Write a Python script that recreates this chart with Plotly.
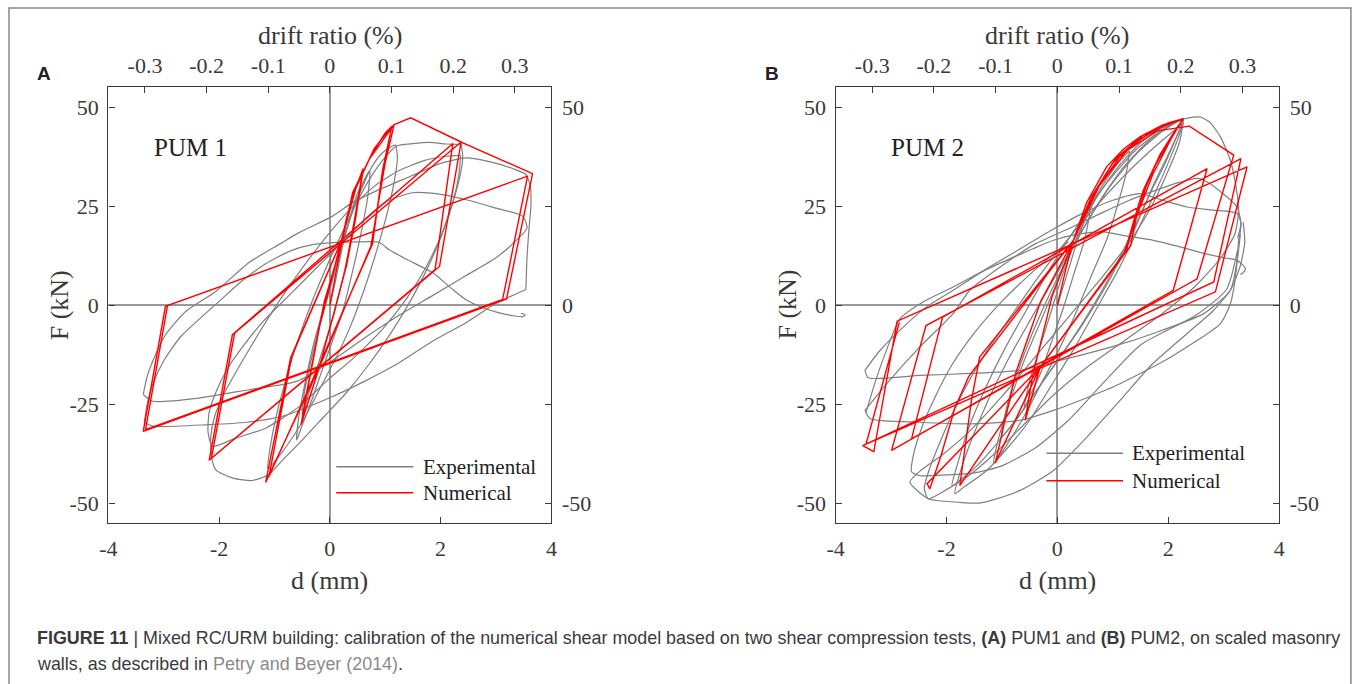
import plotly.graph_objects as go

W, H = 1357, 684

# ---------------- data ----------------
d_ticks = [-4, -2, 0, 2, 4]
f_ticks = [-50, -25, 0, 25, 50]
f_right_text = ["-50", "", "0", "", "50"]
drift_ticks = [-0.3, -0.2, -0.1, 0, 0.1, 0.2, 0.3]
drift_text = ["-0.3", "-0.2", "-0.1", "0", "0.1", "0.2", "0.3"]
MM_PER_01PCT = 1.113  # 0.1 % drift ratio corresponds to 1.113 mm

# PUM 1 - numerical (red)
num_a = [(0, 0), (0.1, 8), (0.2, 15), (0.3, 22), (0.45, 29), (0.6, 34),
         (0.45, 21), (0.3, 10), (-0.19, -15.6), (-0.52, -30.1),
         (-0.42, -22), (-0.2, -6), (0.2, 16), (0.4, 27), (0.6, 34.5),
         (0.45, 22), (0.28, 9), (-0.19, -15.6), (-0.5, -29),
         (-0.4, -21), (-0.1, 1), (0.23, 16.6), (0.41, 28.4), (0.71, 36.8), (1.01, 42.7), (1.16, 45.6),
         (1.0, 36), (0.74, 14.9), (-0.19, -15.6), (-1.16, -44.7),
         (-0.71, -13.3), (0.2, 16), (0.45, 29), (0.75, 38), (1.0, 43.5), (1.12, 45.2),
         (0.95, 34), (0.77, 15.5), (-0.19, -15), (-1.1, -43.2),
         (-0.69, -12.9), (0.2, 16), (0.48, 30), (0.8, 39.5), (1.05, 44), (1.16, 45.6), (1.46, 47.3), (2.37, 41.2),
         (1.98, 9.8), (-2.18, -39.1),
         (-1.76, -7.4), (2.22, 40.8),
         (1.9, 9.0), (-2.14, -38.6),
         (-1.72, -7.0), (2.37, 41.2), (3.66, 33.2),
         (3.19, 1.6), (-3.37, -31.8),
         (-2.97, -0.25), (3.57, 32.6),
         (3.12, 1.5), (-3.33, -31.4),
         (-2.93, 0.1)]

# PUM 1 - experimental (grey), one list per branch
exp_a_1 = [(0, 0), (0.1, 6), (0.2, 13), (0.3, 19), (0.42, 25), (0.52, 29), (0.48, 23), (0.36, 15), (0.22, 6),
           (0.06, -3), (-0.1, -10), (-0.26, -17), (-0.4, -23), (-0.5, -28), (-0.46, -22), (-0.34, -14),
           (-0.18, -5), (0.02, 5), (0.22, 15), (0.42, 24), (0.6, 31), (0.72, 34), (0.68, 27), (0.56, 18),
           (0.4, 8), (0.22, -2), (0.02, -10), (-0.18, -18), (-0.38, -26), (-0.52, -31), (-0.6, -34),
           (-0.56, -28), (-0.44, -19), (-0.28, -9), (-0.08, 1), (0.12, 11), (0.34, 21), (0.56, 29),
           (0.76, 35), (0.95, 38.5), (1.1, 40), (1.19, 40.5)]
exp_a_2 = [(1.19, 40.5), (1.22, 37.5), (1.16, 31), (1.03, 23), (0.85, 14), (0.62, 4), (0.38, -5), (0.12, -13),
           (-0.18, -21), (-0.48, -29), (-0.78, -35.5), (-1.0, -39.5), (-1.12, -41.2), (-1.08, -36),
           (-0.97, -28), (-0.8, -19), (-0.58, -9), (-0.32, 1), (-0.02, 11), (0.28, 20), (0.58, 28.5),
           (0.84, 34.5), (1.04, 38), (1.2, 40.2), (1.5, 40.8), (1.8, 41.1), (2.1, 40.7), (2.37, 40.6)]
exp_a_3 = [(2.37, 40.6), (2.4, 37.5), (2.34, 32), (2.2, 25), (2.0, 17), (1.75, 9), (1.45, 1), (1.1, -7),
           (0.7, -15), (0.3, -22), (-0.1, -28), (-0.5, -34), (-0.85, -39), (-1.1, -42.7), (-1.4, -44.2),
           (-1.75, -43.6), (-2.06, -41.5), (-2.14, -38), (-2.15, -33), (-2.08, -28), (-1.9, -22),
           (-1.62, -15), (-1.28, -7), (-0.92, 1), (-0.52, 9), (-0.08, 17), (0.35, 24), (0.8, 30),
           (1.25, 34), (1.7, 36.5), (2.1, 37.6), (2.36, 37.8)]
exp_a_4 = [(2.36, 37.8), (2.33, 33), (2.22, 26), (2.02, 18), (1.75, 10), (1.4, 2), (0.95, -6), (0.45, -13),
           (-0.05, -19), (-0.55, -25.5), (-1.16, -31), (-1.7, -33.5), (-2.12, -35.6), (-2.2, -32),
           (-2.18, -27), (-2.06, -22), (-1.85, -16), (-1.55, -10), (-1.2, -4), (-0.7, 3), (-0.2, 10),
           (0.3, 17), (0.65, 22), (1.0, 26), (1.49, 28.4), (2.0, 28), (2.5, 26.5), (3.0, 24.5), (3.48, 22.5),
           (3.56, 19.5), (3.3, 15.5), (3.0, 12), (2.46, 7.5), (1.86, 2.5), (1.25, -2.5), (0.65, -8),
           (0.04, -14), (-0.6, -19.2), (-1.46, -21.3), (-2.36, -23.4), (-3.2, -24.2), (-3.37, -22.5)]
exp_a_5 = [(-3.37, -22.5), (-3.3, -18), (-3.15, -12.5), (-2.97, -7.5), (-2.6, -1.5), (-2.06, 3.5),
           (-1.46, 10.8), (-0.9, 15.5), (-0.55, 18.4), (0.05, 22.5), (0.41, 25.9), (0.83, 28.8), (1.5, 32.8),
           (2.0, 35.8), (2.46, 37.2), (2.9, 36.2), (3.3, 34.5), (3.54, 33), (3.62, 30), (3.63, 25),
           (3.6, 20), (3.56, 12), (3.54, 4)]
exp_a_6 = [(3.54, 4), (3.0, 0.5), (2.46, -4.4), (1.86, -9), (1.25, -14.5), (0.65, -19), (0.05, -23),
           (-0.86, -28), (-1.5, -29.5), (-2.18, -30.1), (-3.2, -30.5), (-3.35, -29.5)]
exp_a_7 = [(-3.35, -29.5), (-3.3, -25), (-3.2, -20), (-3.0, -14), (-2.7, -8), (-2.36, -3.5), (-2.0, 1),
           (-1.6, 6), (-1.16, 10.5), (-0.7, 13.8), (-0.31, 15.3), (0.05, 15.8), (0.5, 16), (0.89, 15.9),
           (1.07, 14), (1.4, 11.5), (1.86, 8.2), (2.2, 4.2), (2.46, 1.4), (2.8, -0.8), (3.06, -1.9),
           (3.3, -2.6), (3.48, -2.9), (3.53, -2.4), (3.45, -2.0)]

# PUM 2 - numerical (red)
num_b = [(0, 0), (0.15, 9), (0.29, 16.4), (0.53, 26), (0.89, 35), (1.2, 39.5), (1.49, 42.5), (1.9, 45.5), (2.27, 47.1),
         (2.12, 44), (1.85, 38), (1.6, 30), (1.42, 22), (1.32, 15), (-0.31, -15.6), (-0.58, -29),
         (-0.45, -18), (-0.1, 2), (0.29, 16.4), (0.6, 27), (1.0, 36), (1.5, 42), (1.95, 45.5), (2.27, 47.1),
         (2.1, 43.5), (1.8, 36.5), (1.55, 29), (1.37, 21), (1.25, 14), (-0.31, -15.6), (-1.12, -39.8),
         (-0.95, -29), (-0.75, -17), (-0.3, 1), (0.29, 16.4), (0.62, 27.5), (1.05, 37), (1.55, 43), (2.0, 46), (2.27, 47.1),
         (2.08, 43), (1.75, 35), (1.5, 27), (1.33, 19), (1.22, 13.5), (-0.31, -15.6), (-1.76, -45.5),
         (-1.73, -42.5), (-1.63, -32), (-1.55, -24), (-1.4, -13), (0.29, 16.4), (0.7, 29), (1.15, 38), (1.7, 44), (2.27, 47.1),
         (2.05, 42), (1.72, 33), (1.47, 24), (1.3, 17), (1.2, 13), (-0.31, -15.6), (-2.35, -45), (-2.3, -46.3),
         (-2.1, -38), (-1.85, -26), (-1.6, -18), (-1.36, -13.5), (0.29, 16.4), (0.75, 30), (1.25, 39), (1.8, 44), (2.38, 45.2),
         (3.18, 37.9), (2.52, 6.7), (-2.63, -33.7),
         (-2.07, -3.0), (2.70, 34.5),
         (2.09, 3.8), (-2.99, -36.6),
         (-2.37, -5.1), (3.31, 37),
         (2.82, 5.9), (-3.51, -35.4), (-3.31, -36.9),
         (-2.89, -4.0), (3.42, 34.9),
         (2.85, 3.4), (-3.45, -35.0),
         (-2.85, -4.3)]

# PUM 2 - experimental (grey)
exp_b_1 = [(0, 0), (0.2, 9), (0.4, 18), (0.6, 25), (0.5, 17), (0.3, 8), (0.1, -1), (-0.1, -9), (-0.3, -17),
           (-0.5, -23), (-0.6, -26), (-0.5, -19), (-0.3, -10), (-0.1, -1), (0.1, 8), (0.35, 17), (0.6, 25),
           (0.85, 31), (1.1, 36), (1.3, 39)]
exp_b_2 = [(1.3, 39), (1.25, 34), (1.1, 26), (0.9, 17), (0.6, 7), (0.3, -3), (0, -12), (-0.3, -20), (-0.6, -28),
           (-0.9, -35), (-1.15, -40), (-1.05, -33), (-0.85, -24), (-0.6, -14), (-0.3, -4), (0, 6), (0.35, 17),
           (0.7, 27), (1.1, 35), (1.5, 41), (1.85, 44.5), (2.1, 46), (2.27, 47)]
exp_b_3 = [(2.27, 47), (2.2, 43), (2.0, 36), (1.75, 28), (1.45, 19), (1.1, 9), (0.7, -1), (0.3, -11), (-0.1, -20),
           (-0.5, -29), (-0.9, -36), (-1.3, -42), (-1.7, -46), (-1.85, -47.5), (-1.75, -42), (-1.55, -34),
           (-1.25, -24), (-0.9, -14), (-0.5, -4), (-0.05, 7), (0.45, 19), (0.95, 30), (1.45, 38.5), (1.9, 44),
           (2.27, 47)]
exp_b_4 = [(2.27, 47), (2.45, 47.5), (2.58, 47.5), (2.75, 46.2), (2.94, 42.5), (3.12, 36.6), (3.22, 30),
           (3.27, 24), (3.2, 18), (2.95, 12), (2.5, 5), (1.9, -2), (1.2, -9), (0.5, -16), (-0.1, -23),
           (-0.6, -30), (-1.1, -37), (-1.6, -43), (-2.0, -46.5), (-2.33, -48.8), (-2.4, -46), (-2.3, -41),
           (-2.1, -34), (-1.85, -26), (-1.55, -18), (-1.2, -10), (-0.8, -2), (-0.35, 7), (0.15, 16), (0.7, 25),
           (1.3, 34), (1.8, 40.5), (2.27, 46)]
exp_b_5 = [(2.27, 46), (2.2, 41), (2.0, 34), (1.7, 25), (1.3, 16), (0.8, 7), (0.2, -3), (-0.4, -13), (-1.0, -23),
           (-1.6, -32), (-2.1, -38), (-2.45, -41.5), (-2.66, -44.6), (-2.33, -48.8), (-1.76, -49.7),
           (-1.40, -49.9), (-1.16, -49.1), (-0.67, -46.7), (-0.07, -41.7), (0.53, -33.3), (1.13, -24),
           (1.7, -15), (2.34, -7.1), (2.8, -1.5), (3.12, 3.8), (3.3, 10), (3.38, 16), (3.35, 21)]
exp_b_6 = [(-3.47, -26.5), (-3.08, -19.8), (-2.48, -10.5), (-1.88, -2.1), (-1.58, 3.8), (-1.0, 10), (-0.4, 15.5),
           (0.23, 19.5), (0.83, 23.5), (1.3, 26.5), (1.73, 28.8), (2.2, 31), (2.52, 32), (2.70, 31.1),
           (3.0, 28), (3.24, 24.8), (3.31, 20.6), (3.25, 17)]
exp_b_7 = [(-3.47, -16.4), (-3.2, -11.4), (-2.78, -5.5), (-2.36, -0.4), (-1.88, 3.8), (-1.3, 9), (-0.7, 14),
           (-0.1, 19), (0.5, 23.5), (1.0, 26.5), (1.49, 28.2), (1.9, 26.5), (2.34, 24.8), (2.8, 24),
           (3.24, 23.2), (3.31, 20.6), (3.28, 17)]
exp_b_8 = [(-3.45, -27), (-3.3, -20), (-3.1, -12), (-2.84, -3.4), (-2.4, 1), (-1.88, 4.6), (-1.4, 8.2),
           (-0.91, 11.4), (-0.45, 14.2), (-0.07, 16.4), (0.4, 18), (0.83, 18.5), (1.2, 17.6), (1.73, 16.4),
           (2.2, 14.8), (2.64, 13.1), (3.0, 12), (3.24, 11.4), (3.39, 9.3), (3.35, 8.2), (3.3, 7.8)]
exp_b_9 = [(3.3, 18), (3.25, 12), (3.12, 3.8), (2.64, -2.1), (1.73, -7.1), (1.1, -10), (0.53, -12.2),
           (-0.07, -14.3), (-0.67, -16.4), (-1.58, -17.2), (-2.48, -17.7), (-3.41, -18.3), (-3.47, -16.4)]
exp_b_10 = [(3.27, 17), (3.22, 8), (3.12, 0.4), (2.94, -4.6), (2.04, -13.1), (1.13, -19.8), (0.5, -23.5),
            (-0.07, -26.5), (-0.67, -29), (-1.52, -29.9), (-2.48, -29.5), (-3.38, -28.6), (-3.47, -26.5)]
exp_b_11 = [(3.25, 14), (3.05, 4), (2.5, -2.5), (1.5, -10), (0.8, -20), (0.2, -29), (-0.4, -36), (-1.0, -40.5),
            (-1.5, -42.3), (-2.0, -42.8), (-2.48, -43), (-2.63, -42), (-2.6, -38), (-2.45, -31), (-2.2, -23),
            (-1.9, -15), (-1.5, -7), (-1.0, 1), (-0.4, 9), (0.2, 16)]
exp_b_12 = [(2.27, 47), (2.15, 42.5), (1.95, 36), (1.7, 29), (1.4, 20), (1.05, 10), (0.65, 0), (0.2, -10),
            (-0.25, -19), (-0.7, -28), (-1.1, -35), (-1.45, -40.5), (-1.75, -44), (-1.9, -45.5), (-1.8, -40),
            (-1.6, -31), (-1.3, -21), (-0.95, -11), (-0.55, -1), (-0.1, 10), (0.4, 21), (0.9, 31), (1.4, 39),
            (1.85, 44), (2.27, 47)]
exp_b_13 = [(2.27, 47), (2.18, 43.5), (1.98, 37.5), (1.72, 30), (1.45, 21), (1.15, 12), (0.8, 3), (0.4, -6),
            (0, -14), (-0.4, -22), (-0.75, -29), (-1.0, -33), (-0.92, -26), (-0.72, -17), (-0.45, -7),
            (-0.1, 4), (0.3, 15), (0.75, 26), (1.2, 35), (1.65, 41.5), (2.0, 45), (2.27, 47)]

exp_a = [exp_a_1, exp_a_2, exp_a_3, exp_a_4, exp_a_5, exp_a_6, exp_a_7]
exp_b = [exp_b_1, exp_b_2, exp_b_3, exp_b_4, exp_b_5, exp_b_6, exp_b_7, exp_b_8, exp_b_9, exp_b_10,
         exp_b_11, exp_b_12, exp_b_13]

# ---------------- layout helpers ----------------
# the page is shown slightly compressed horizontally; positions below are target pixels
X_OFF, X_SC = 10.0, 0.989


def fx(px):
    return max(0.0, min(1.0, (px - X_OFF) / X_SC / W))


def fy(py):
    return 1 - py / H


GREY = "#7f7f7f"
RED = "#ff0000"
AXC = "#3a3a3a"
SERIF = "Liberation Serif, Times New Roman, serif"

ydom = [fy(523.3), fy(87.3)]
xdom_a = [fx(109.3), fx(552.0)]
xdom_b = [fx(836.0), fx(1279.3)]

fig = go.Figure()


def add_series(pts, xa, ya, color, width, shape="linear"):
    fig.add_trace(go.Scatter(x=[p[0] for p in pts], y=[p[1] for p in pts], mode="lines",
                             line=dict(color=color, width=width, shape=shape, smoothing=0.6),
                             xaxis=xa, yaxis=ya, showlegend=False, hoverinfo="skip"))


for br in exp_a:
    add_series(br, "x", "y", GREY, 1.2, "spline")
add_series(num_a, "x", "y", RED, 1.4)
for br in exp_b:
    add_series(br, "x3", "y3", GREY, 1.2, "spline")
add_series(num_b, "x3", "y3", RED, 1.4)

# empty traces so that the secondary (top / right) axes get drawn
for xa, ya in [("x2", "y"), ("x", "y2"), ("x4", "y3"), ("x3", "y4")]:
    fig.add_trace(go.Scatter(x=[None], y=[None], xaxis=xa, yaxis=ya, showlegend=False, hoverinfo="skip"))

tick_font = dict(family=SERIF, size=22, color=AXC)
base = dict(showgrid=False, showline=True, linecolor=AXC, linewidth=1.3, ticks="inside", ticklen=6,
            tickcolor=AXC, tickwidth=1.2, tickfont=tick_font, zeroline=False)

drange = [-4 * 0.1 / MM_PER_01PCT, 4 * 0.1 / MM_PER_01PCT]


def axes(xd, xa, ya):
    bottom = dict(base, domain=xd, range=[-4, 4], tickmode="array", tickvals=d_ticks,
                  ticktext=[str(v) for v in d_ticks], anchor=ya, zeroline=True,
                  zerolinecolor="#999999", zerolinewidth=1.6, ticklabelstandoff=5)
    top = dict(base, range=drange, tickmode="array", tickvals=drift_ticks, ticktext=drift_text,
               side="top", overlaying=xa, anchor=ya, ticklabelstandoff=4)
    left = dict(base, domain=ydom, range=[-55, 55], tickmode="array", tickvals=f_ticks,
                ticktext=[str(v) for v in f_ticks], anchor=xa, zeroline=True,
                zerolinecolor="#999999", zerolinewidth=1.6, ticklabelstandoff=4)
    right = dict(base, range=[-55, 55], tickmode="array", tickvals=f_ticks, ticktext=f_right_text,
                 side="right", overlaying=ya, anchor=xa, ticklabelstandoff=5)
    return bottom, top, left, right


xb, xt, yl, yr = axes(xdom_a, "x", "y")
xb3, xt4, yl3, yr4 = axes(xdom_b, "x3", "y3")

fig.update_layout(
    width=W, height=H, autosize=False,
    margin=dict(l=0, r=0, t=0, b=0),
    paper_bgcolor="white", plot_bgcolor="white",
    showlegend=False,
    xaxis=xb, xaxis2=xt, yaxis=yl, yaxis2=yr,
    xaxis3=xb3, xaxis4=xt4, yaxis3=yl3, yaxis4=yr4,
)

ann = []
shapes = []
title_font = dict(family=SERIF, size=26, color=AXC)
for (x0, x1, label, pum, pumx) in [(109.3, 552.0, "A", "PUM 1", 153), (836.0, 1279.3, "B", "PUM 2", 889)]:
    cx = (x0 + x1) / 2
    ann.append(dict(text="drift ratio (%)", x=fx(cx), y=fy(35), xref="paper", yref="paper",
                    showarrow=False, font=title_font, xanchor="center", yanchor="middle"))
    ann.append(dict(text="d (mm)", x=fx(cx), y=fy(580), xref="paper", yref="paper",
                    showarrow=False, font=title_font, xanchor="center", yanchor="middle"))
    ann.append(dict(text="F (kN)", x=fx(x0 - 49), y=fy(305), xref="paper", yref="paper", textangle=-90,
                    showarrow=False, font=title_font, xanchor="center", yanchor="middle"))
    ann.append(dict(text="<b>%s</b>" % label, x=fx(x0 - 73), y=fy(73), xref="paper", yref="paper",
                    showarrow=False, font=dict(family="Liberation Sans, Arial", size=19, color="#222"),
                    xanchor="left", yanchor="middle"))
    ann.append(dict(text=pum, x=fx(pumx), y=fy(148), xref="paper", yref="paper",
                    showarrow=False, font=dict(family=SERIF, size=25, color="#222"),
                    xanchor="left", yanchor="middle"))

# legends (drawn manually to match the long legend lines)
for (lx0, lx1, ly1, ly2, tx) in [(337, 414, 466.7, 492.7, 421.7), (1046.7, 1123.3, 453.3, 480.7, 1130.7)]:
    shapes.append(dict(type="line", xref="paper", yref="paper", x0=fx(lx0), x1=fx(lx1), y0=fy(ly1), y1=fy(ly1),
                       line=dict(color=GREY, width=1.4)))
    shapes.append(dict(type="line", xref="paper", yref="paper", x0=fx(lx0), x1=fx(lx1), y0=fy(ly2), y1=fy(ly2),
                       line=dict(color=RED, width=1.4)))
    ann.append(dict(text="Experimental", x=fx(tx), y=fy(ly1), xref="paper", yref="paper", showarrow=False,
                    font=dict(family=SERIF, size=21, color="#222"), xanchor="left", yanchor="middle"))
    ann.append(dict(text="Numerical", x=fx(tx), y=fy(ly2), xref="paper", yref="paper", showarrow=False,
                    font=dict(family=SERIF, size=21, color="#222"), xanchor="left", yanchor="middle"))

# outer frame
shapes.append(dict(type="rect", xref="paper", yref="paper", x0=fx(4.5), x1=fx(1351), y0=fy(8), y1=fy(700),
                   line=dict(color="#888888", width=1.5), fillcolor="rgba(0,0,0,0)"))

cap_font = dict(family="Liberation Sans, Arial", size=17.9, color="#3a3a3a")
ann.append(dict(text="<b>FIGURE 11</b> | Mixed RC/URM building: calibration of the numerical shear model based on two "
                     "shear compression tests, <b>(A)</b> PUM1 and <b>(B)</b> PUM2, on scaled masonry",
                x=fx(36), y=fy(638), xref="paper", yref="paper", showarrow=False, font=cap_font,
                xanchor="left", yanchor="middle", align="left"))
ann.append(dict(text="walls, as described in <span style='color:#8a8a8a'>Petry and Beyer (2014)</span>.",
                x=fx(36), y=fy(664), xref="paper", yref="paper", showarrow=False, font=cap_font,
                xanchor="left", yanchor="middle", align="left"))

fig.update_layout(annotations=ann, shapes=shapes)
fig.write_html("out.html")
